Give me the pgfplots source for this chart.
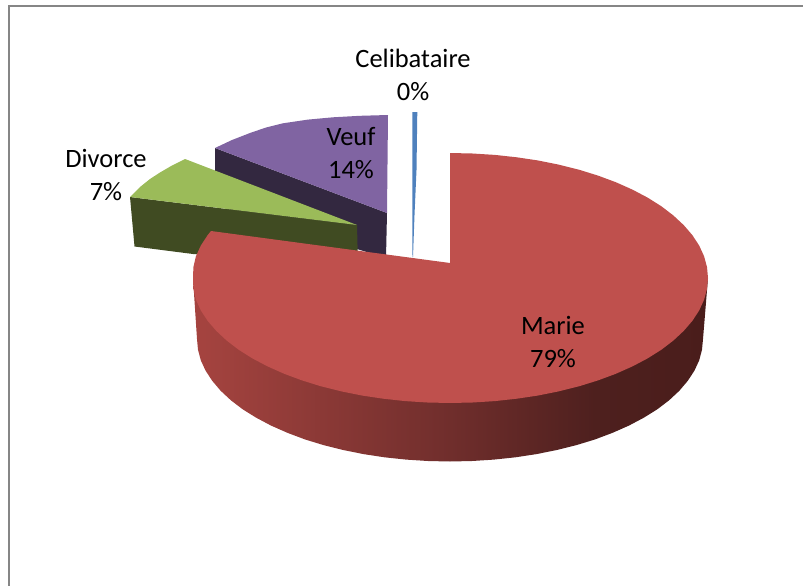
\documentclass[border=0pt]{standalone}
\usepackage{fontspec}
\setmainfont{Carlito}
\usepackage{pgfplots}
\pgfplotsset{compat=1.18}
\definecolor{redface}{HTML}{BF504D}
\definecolor{greenface}{HTML}{9BBB59}
\definecolor{greenside}{HTML}{404B22}
\definecolor{purpleface}{HTML}{8064A2}
\definecolor{purpleside}{HTML}{332840}
\definecolor{blueface}{HTML}{4F81BD}
\definecolor{framegray}{HTML}{868686}
\pgfdeclarehorizontalshading{redside}{100bp}{
  rgb(0bp)=(0.643,0.263,0.247);
  rgb(25bp)=(0.643,0.263,0.247);
  rgb(26bp)=(0.643,0.263,0.247);
  rgb(50bp)=(0.439,0.180,0.173);
  rgb(64bp)=(0.306,0.125,0.118);
  rgb(75bp)=(0.290,0.114,0.106);
  rgb(100bp)=(0.290,0.114,0.106)}
\begin{document}
\begin{tikzpicture}
\begin{axis}[
  hide axis, scale only axis, width=803pt, height=586pt,
  xmin=0, xmax=803, ymin=0, ymax=586, y dir=reverse,
  every axis plot/.append style={line width=0pt}]
\path (axis cs:0,0) rectangle (axis cs:803,586);
% frame
\addplot[framegray, line width=2pt, mark=none] coordinates {(9,586) (9,6) (803,6)};
% Veuf
\addplot[draw=none, fill=purpleside] coordinates {(215,148) (387,213) (386,258) (215,205)} -- cycle;
\addplot[draw=none, fill=purpleface] coordinates {(215,148) (232,140) (250,133) (266,127.5) (283,123.3) (308,119.6) (333,117.3) (360,115.8) (388,115) (387,213)} -- cycle;
% Divorce
\addplot[draw=none, fill=greenside] coordinates {(130,197) (357,225) (358,265) (193,254) (134.5,246.5)} -- cycle;
\addplot[draw=none, fill=greenface] coordinates {(130,197) (140,187) (150,179) (160,172.5) (172,165.5) (185,159) (357,225)} -- cycle;
% Celibataire
\addplot[draw=none, fill=blueface] coordinates {(412.3,112) (417.3,112) (416.5,170) (414.5,215) (413,257) (412.5,257) (412.4,215)} -- cycle;
% Marie: side
\addplot[draw=none, shading=redside] coordinates {
 (193,278) (197,339) (198,349.7) (200.8,360.3) (205.6,370.7) (212.3,380.9) (220.7,390.8) (230.9,400.3)
 (242.7,409.3) (256.2,417.7) (271.1,425.6) (287.4,432.8) (304.9,439.4) (323.5,445.1) (343.1,450)
 (363.5,454.1) (384.5,457.3) (406.1,459.6) (427.9,461) (450,461.5) (472.1,461) (493.9,459.6)
 (515.5,457.3) (536.5,454.1) (556.9,450) (576.5,445.1) (595.1,439.4) (612.6,432.8) (628.9,425.6)
 (643.8,417.7) (657.3,409.3) (669.1,400.3) (679.3,390.8) (687.7,380.9) (694.4,370.7) (699.2,360.3)
 (702,349.7) (703,339) (708,278)} -- cycle;
% Marie: top face
\addplot[draw=none, fill=redface] coordinates {
 (450,263) (450,153) (472.5,153.5) (494.8,154.9) (516.8,157.3) (538.2,160.5) (559,164.7) (579,169.7)
 (598,175.6) (615.8,182.2) (632.4,189.6) (647.6,197.6) (661.4,206.3) (673.4,215.5) (683.8,225.2)
 (692.4,235.2) (699.2,245.6) (704.1,256.3) (707,267.1) (708,278) (707,288.9) (704.1,299.7) (699.2,310.4)
 (692.4,320.8) (683.8,330.8) (673.4,340.5) (661.4,349.7) (647.6,358.4) (632.4,366.4) (615.8,373.8)
 (598,380.4) (579,386.3) (559,391.3) (538.2,395.5) (516.8,398.7) (494.8,401.1) (472.5,402.5) (450,403)
 (427.5,402.5) (405.2,401.1) (383.2,398.7) (361.8,395.5) (341,391.3) (321,386.3) (302,380.4) (284.2,373.8)
 (267.6,366.4) (252.4,358.4) (238.6,349.7) (226.6,340.5) (216.2,330.8) (207.6,320.8) (200.8,310.4)
 (195.9,299.7) (193.4,288.9) (193,278) (193.4,267.1) (195.9,256.3) (200.8,245.6) (207.6,235.2) (211,231)} -- cycle;
% labels
\def\lab#1#2#3{\node[anchor=base, inner sep=0pt, font=\fontsize{26.5}{26.5}\selectfont] at (axis cs:#1,#2) {#3};}
\lab{413}{67}{Celibataire}
\lab{413}{100}{0\%}
\lab{106}{167}{Divorce}
\lab{106}{200}{7\%}
\lab{351}{145}{Veuf}
\lab{351}{178}{14\%}
\lab{553}{334.5}{Marie}
\lab{553}{367.5}{79\%}
\end{axis}
\end{tikzpicture}
\end{document}
